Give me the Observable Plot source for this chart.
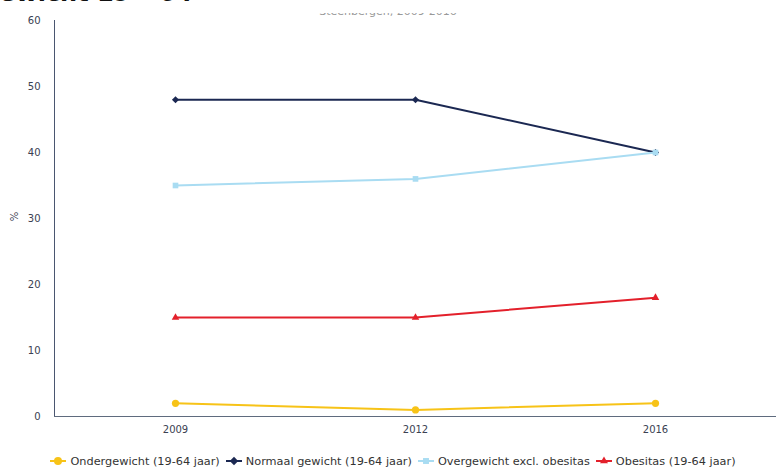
<!DOCTYPE html>
<html>
<head>
<meta charset="utf-8">
<script src="https://cdn.jsdelivr.net/npm/d3@7"></script>
<script src="https://cdn.jsdelivr.net/npm/@observablehq/plot@0.6"></script>
<style>
  html, body { margin: 0; padding: 0; background: #fff; width: 776px; height: 469px; overflow: hidden; }
  body { position: relative; font-family: "DejaVu Sans", sans-serif; }
  #chart { position: absolute; left: 0; top: 0; z-index: 1; }
  #title { position: absolute; left: -18px; top: -21px; z-index: 2; font-family: "DejaVu Sans", sans-serif; font-weight: bold; font-size: 24px; color: #111; white-space: nowrap; }
  #subtitle { position: absolute; left: 0; width: 776px; top: 5px; z-index: 2; text-align: center; font-size: 11px; color: #999; white-space: nowrap; clip-path: inset(8px 0 0 0); }
  #ylabel { position: absolute; left: 10px; top: 211px; z-index: 2; font-size: 10px; color: #3a4152; transform: rotate(-90deg); }
  #legend { position: absolute; left: 5px; width: 776px; top: 455px; z-index: 2; text-align: center; font-size: 11.3px; color: #333; white-space: nowrap; }
  #legend span.item { margin: 0 3px; }
  #legend svg { vertical-align: -1px; margin-right: 4px; }
</style>
</head>
<body>
<div id="chart"></div>
<div id="title">gewicht 19 – 64</div>
<div id="subtitle">Steenbergen, 2009-2016</div>
<div id="ylabel">%</div>
<div id="legend"></div>
<script>
const years = ["2009", "2012", "2016"];
const seriesNames = ["Ondergewicht (19-64 jaar)", "Normaal gewicht (19-64 jaar)", "Overgewicht excl. obesitas", "Obesitas (19-64 jaar)"];
const ondergewicht = [2, 1, 2];
const normaalGewicht = [48, 48, 40];
const overgewicht = [35, 36, 40];
const obesitas = [15, 15, 18];
const colors = ["#f7c318", "#1b2852", "#a9dcf2", "#e3202b"];
const symbols = ["circle", "diamond2", "square2", "triangle2"];
const yTicks = [0, 10, 20, 30, 40, 50, 60];

const allValues = [ondergewicht, normaalGewicht, overgewicht, obesitas];
const drawOrder = [0, 1, 3, 2];
const data = [];
drawOrder.forEach(si => {
  years.forEach((yr, i) => data.push({series: seriesNames[si], year: yr, value: allValues[si][i], idx: si}));
});

const marks = [
  Plot.frame({anchor: "left", stroke: "#4a5670"}),
  Plot.ruleY([0], {stroke: "#5f6b7e", strokeWidth: 1.2})
];
drawOrder.forEach(si => {
  const d = data.filter(r => r.idx === si);
  marks.push(Plot.line(d, {x: "year", y: "value", stroke: colors[si], strokeWidth: 2}));
  marks.push(Plot.dot(d, {x: "year", y: "value", fill: colors[si], symbol: symbols[si], r: si === 1 ? 3.2 : 3.6}));
});

const chart = Plot.plot({
  width: 776,
  height: 440,
  marginTop: 20,
  marginBottom: 24,
  marginLeft: 54,
  marginRight: 0,
  style: {fontFamily: "DejaVu Sans, sans-serif", fontSize: "10px", color: "#3a4152", background: "transparent"},
  x: {type: "point", domain: years, padding: 0.5, label: null, tickSize: 0, tickPadding: 9},
  y: {domain: [0, 60], ticks: yTicks, label: null, tickSize: 0, tickPadding: 14},
  symbol: {type: "identity"},
  marks: marks
});
document.getElementById("chart").appendChild(chart);

const legend = document.getElementById("legend");
seriesNames.forEach((name, si) => {
  const item = document.createElement("span");
  item.className = "item";
  const sym = d3.symbol().type([d3.symbolCircle, d3.symbolDiamond2, d3.symbolSquare2, d3.symbolTriangle2][si]).size(si === 0 ? 50 : 45)();
  item.innerHTML = `<svg width="16" height="10" viewBox="-8 -5 16 10"><line x1="-8" x2="8" y1="0" y2="0" stroke="${colors[si]}" stroke-width="2"/><path d="${sym}" fill="${colors[si]}"/></svg>${name}`;
  legend.appendChild(item);
});
</script>
</body>
</html>
